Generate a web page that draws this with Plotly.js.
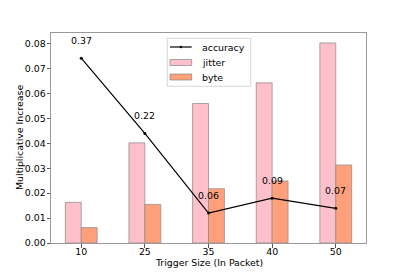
<!DOCTYPE html>
<html><head><meta charset="utf-8">
<script src="https://cdn.plot.ly/plotly-3.0.1.min.js"></script>
<style>html,body{margin:0;padding:0;background:#fff}#c{width:407px;height:273px}</style>
</head><body><div id="c"></div>
<script>
const categories = ['10', '25', '35', '40', '50'];
const seriesNames = ['accuracy', 'jitter', 'byte'];
const jitter = [0.0163, 0.0402, 0.056, 0.0643, 0.0803];
const byteVals = [0.0062, 0.0155, 0.0218, 0.0249, 0.0313];
const accuracyLine = [0.0742, 0.044, 0.012, 0.018, 0.0139];
const accuracyLabels = ['0.37', '0.22', '0.06', '0.09', '0.07'];
const yTicks = [0, 0.01, 0.02, 0.03, 0.04, 0.05, 0.06, 0.07, 0.08];

const M = {l: 51, r: 41, t: 33, b: 30};
const W = 407, H = 273, PW = W - M.l - M.r, PH = H - M.t - M.b;
const px = x => (x - M.l) / PW;
const py = y => (H - M.b - y) / PH;

const font = {family: 'DejaVu Sans, sans-serif', size: 9.4, color: '#000'};
const pinkC = 'pink', salmonC = 'lightsalmon';
const edge = 'rgba(140,140,140,0.75)';
const data = [
  {type: 'scatter', mode: 'lines+markers', name: seriesNames[0], x: categories, y: accuracyLine,
   line: {color: '#000', width: 1.2}, marker: {color: '#000', size: 3}},
  {type: 'bar', name: seriesNames[1], x: categories, y: jitter,
   marker: {color: pinkC, line: {color: edge, width: 1}}},
  {type: 'bar', name: seriesNames[2], x: categories, y: byteVals,
   marker: {color: salmonC, line: {color: edge, width: 1}}}
];
const annotations = categories.map((c, i) => ({
  x: i, y: accuracyLine[i] + 0.007, xref: 'x', yref: 'y', text: accuracyLabels[i], showarrow: false,
  xanchor: 'center', yanchor: 'middle', font: font
}));
annotations.push({
  x: px(19), y: 0.5, xref: 'paper', yref: 'paper', text: 'Multiplicative Increase',
  textangle: -90, showarrow: false, xanchor: 'center', yanchor: 'middle', font: font
});
annotations.push({
  x: 0.5, y: py(262.5), xref: 'paper', yref: 'paper', text: 'Trigger Size (In Packet)',
  showarrow: false, xanchor: 'center', yanchor: 'middle', font: font
});
// custom legend
const legRows = [47, 62.5, 77];
const shapes = [
  {type: 'rect', xref: 'paper', yref: 'paper', x0: px(167.3), x1: px(250.7), y0: py(38.3), y1: py(86.3),
   fillcolor: 'rgba(255,255,255,0.85)', line: {color: '#d8d8d8', width: 1}, layer: 'above'},
  {type: 'line', xref: 'paper', yref: 'paper', x0: px(170), x1: px(191.7), y0: py(legRows[0]), y1: py(legRows[0]),
   line: {color: '#000', width: 1.2}, layer: 'above'},
  {type: 'circle', xref: 'paper', yref: 'paper', x0: px(179.6), x1: px(182.1), y0: py(45.8), y1: py(48.2),
   fillcolor: '#000', line: {color: '#000', width: 0}, layer: 'above'},
  {type: 'rect', xref: 'paper', yref: 'paper', x0: px(170), x1: px(191.7), y0: py(legRows[1] - 3), y1: py(legRows[1] + 3),
   fillcolor: pinkC, line: {color: edge, width: 1}, layer: 'above'},
  {type: 'rect', xref: 'paper', yref: 'paper', x0: px(170), x1: px(191.7), y0: py(legRows[2] - 3), y1: py(legRows[2] + 3),
   fillcolor: salmonC, line: {color: edge, width: 1}, layer: 'above'}
];
seriesNames.forEach((n, i) => annotations.push({
  x: px(199.5), y: py(legRows[i]), xref: 'paper', yref: 'paper', text: n, showarrow: false,
  xanchor: 'left', yanchor: 'middle', font: font
}));
const layout = {
  width: W, height: H, margin: M,
  paper_bgcolor: '#fff', plot_bgcolor: '#fff',
  font: font,
  barmode: 'group', bargap: 0.5, bargroupgap: 0,
  showlegend: false,
  xaxis: {type: 'category', range: [-0.475, 4.475], showgrid: false, zeroline: false,
          showline: true, linecolor: '#999', linewidth: 1, mirror: true,
          ticks: 'outside', ticklen: 3.5, tickcolor: '#555', tickfont: font, ticklabelstandoff: -4},
  yaxis: {range: [0, 0.0843], tickvals: yTicks, tickformat: '.2f', showgrid: false, zeroline: false,
          showline: true, linecolor: '#999', linewidth: 1, mirror: true,
          ticks: 'outside', ticklen: 3.5, tickcolor: '#555', tickfont: font, ticklabelstandoff: -1},
  shapes: shapes,
  annotations: annotations
};
Plotly.newPlot('c', data, layout, {staticPlot: true, displayModeBar: false});
</script></body></html>
